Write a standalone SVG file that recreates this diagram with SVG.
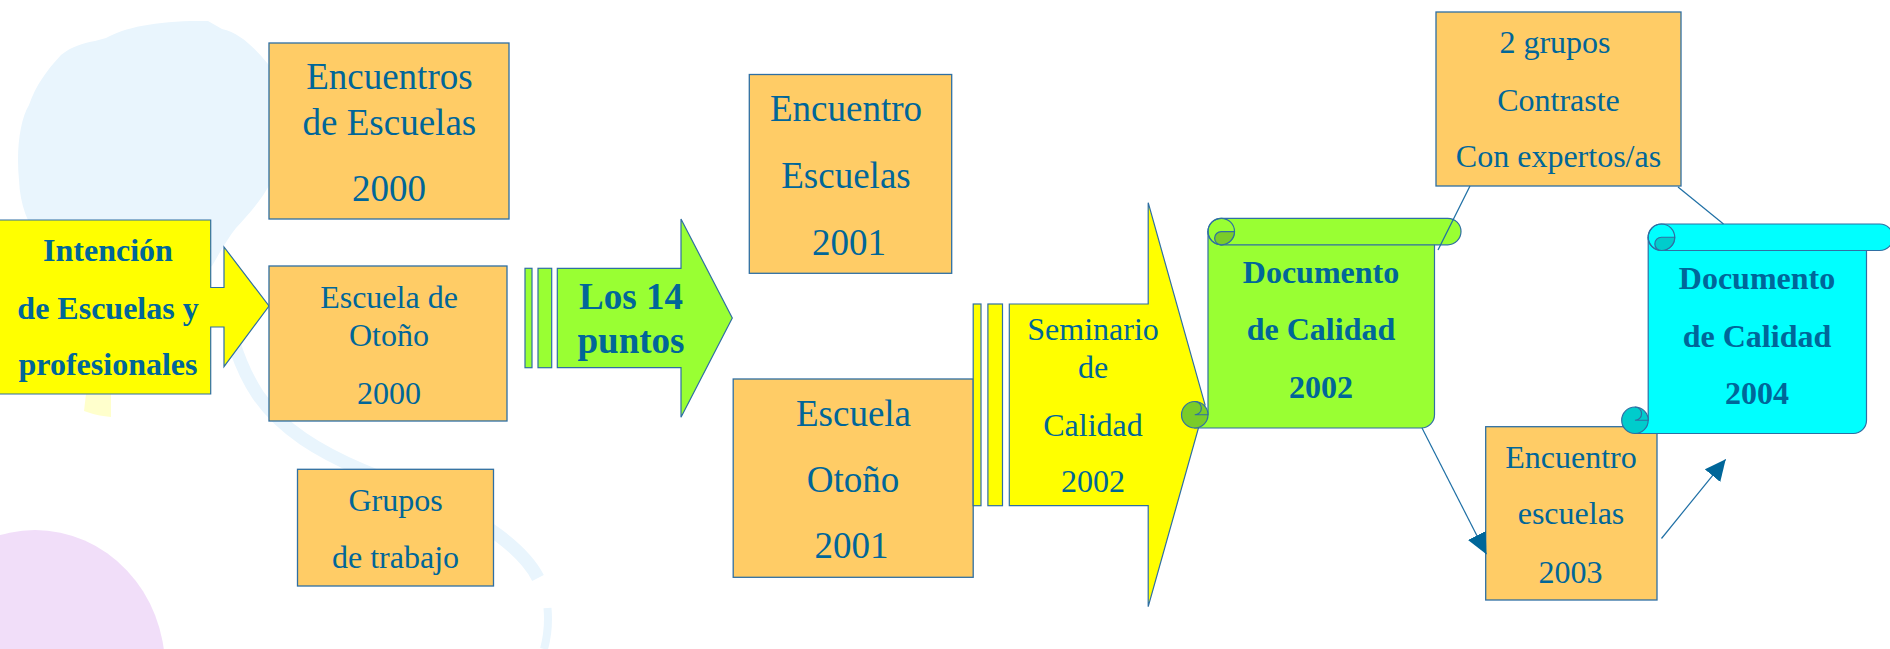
<svg xmlns="http://www.w3.org/2000/svg" width="1890" height="649" viewBox="0 0 1890 649">
<style>
.box{fill:#FFCC66;stroke:#2F6FA3;stroke-width:1.3}
.t{font-family:"Liberation Serif","Times New Roman",serif;fill:#006699;text-anchor:middle}
.s32{font-size:32px}
.s37{font-size:37px}
.b{font-weight:bold}
.ol{stroke:#2F6FA3;stroke-width:1.2}
.yel{fill:#FFFF00}
.grn{fill:#99FF33}
.grnd{fill:#7ACC29}
.cyn{fill:#00FFFF}
.cynd{fill:#00CCCC}
.con{stroke:#1E6FA5;stroke-width:1.2;fill:none}
</style>
<defs>
<marker id="ah" markerUnits="userSpaceOnUse" markerWidth="22" markerHeight="20" refX="21" refY="10" orient="auto">
<path d="M0,0 L21,10 L0,20 Z" fill="#006699"/>
</marker>
</defs>
<rect width="1890" height="649" fill="#FFFFFF"/>
<g id="background">
<path d="M95,41 L106,38 C125,27 160,20 208,21 L222,29 C240,33 255,48 268,64 L272,70 L272,180 C262,200 248,215 236,228 C228,238 220,252 212,266 L150,300 L40,240 C28,225 20,205 19,180 C16,150 20,120 29,105 C36,85 47,70 61,55 C72,46 84,43 95,41 Z" fill="#E9F5FD"/>
<path d="M222,290 C228,330 238,365 258,395 C282,430 320,452 362,470 C420,494 468,512 498,535 C518,550 531,564 538,578" fill="none" stroke="#E9F5FD" stroke-width="13"/>
<path d="M547.5,608 C549,625 547,638 544,649" fill="none" stroke="#E9F5FD" stroke-width="8"/>
<path d="M86,394 L111,394 L111,417 C100,416 92,414 84,411 Z" fill="#FFFFCC"/>
<ellipse cx="35" cy="668" rx="130" ry="138" fill="#F1DEF9"/>
</g>
<g id="intencion">
<path class="yel ol" d="M-2,220 H210.7 V287.5 H224 V247 L269,306 L224,366.7 V327 H210.7 V394 H-2 Z"/>
<text class="t s32 b" x="108" y="260.8">Intención</text>
<text class="t s32 b" x="108" y="318.7">de Escuelas y</text>
<text class="t s32 b" x="108" y="374.6">profesionales</text>
</g>
<g id="encuentros2000">
<rect class="box" x="269" y="43" width="240" height="176"/>
<text class="t s37" x="389.4" y="89">Encuentros</text>
<text class="t s37" x="389.4" y="134.5">de Escuelas</text>
<text class="t s37" x="389" y="200.7">2000</text>
</g>
<g id="otono2000">
<rect class="box" x="269" y="266" width="238" height="155"/>
<text class="t s32" x="389" y="308">Escuela de</text>
<text class="t s32" x="389" y="345.7">Otoño</text>
<text class="t s32" x="389" y="404">2000</text>
</g>
<g id="grupos">
<rect class="box" x="297.5" y="469.3" width="196" height="116.7"/>
<text class="t s32" x="395.5" y="510.5">Grupos</text>
<text class="t s32" x="395.5" y="567.5">de trabajo</text>
</g>
<g id="los14">
<rect class="grn ol" x="525" y="268.3" width="7" height="99.4"/>
<rect class="grn ol" x="538" y="268.3" width="13.7" height="99.4"/>
<path class="grn ol" d="M557.3,268.3 H681 V219 L732.3,318 L681,417.3 V367.7 H557.3 Z"/>
<text class="t s37 b" x="631" y="309.3">Los 14</text>
<text class="t s37 b" x="631" y="353.3">puntos</text>
</g>
<g id="encuentro2001">
<rect class="box" x="749.3" y="74.5" width="202.4" height="198.8"/>
<text class="t s37" x="846" y="121">Encuentro</text>
<text class="t s37" x="846" y="188.3">Escuelas</text>
<text class="t s37" x="849" y="255">2001</text>
</g>
<g id="otono2001">
<rect class="box" x="733.2" y="379" width="240" height="198.3"/>
<text class="t s37" x="853.5" y="425.7">Escuela</text>
<text class="t s37" x="853" y="491.7">Otoño</text>
<text class="t s37" x="851.6" y="558.3">2001</text>
</g>
<g id="seminario">
<rect class="yel ol" x="973.2" y="304" width="7.8" height="201.7"/>
<rect class="yel ol" x="987.9" y="304" width="14.6" height="201.7"/>
<path class="yel ol" d="M1009.3,304 H1148.2 V202.7 L1205,404.7 L1148.2,606.7 V505.7 H1009.3 Z"/>
<text class="t s32" x="1093" y="340">Seminario</text>
<text class="t s32" x="1093" y="377.7">de</text>
<text class="t s32" x="1093" y="435.7">Calidad</text>
<text class="t s32" x="1093" y="492.3">2002</text>
</g>
<g id="documento2002">
<path class="grn ol" d="M1208,231.55 H1434.5 V414.75 A13.25 13.25 0 0 1 1421.25,428 H1194.75 V414.75 H1208 Z"/>
<circle class="grnd ol" cx="1194.75" cy="414.75" r="13.25"/>
<path class="ol" fill="none" d="M1194.75,401.5 A6.625 6.625 0 0 1 1194.75,414.75 H1208"/>
<path class="grn ol" d="M1221.25,218.3 H1447.75 A13.25 13.25 0 0 1 1447.75,244.8 H1221.25 A13.25 13.25 0 0 1 1221.25,218.3 Z"/>
<circle class="ol" fill="none" cx="1221.25" cy="231.55" r="13.25"/>
<path class="grnd ol" d="M1221.25,231.55 A6.625 6.625 0 0 0 1221.25,244.8 A13.25 13.25 0 0 0 1234.5,231.55 Z"/>
<text class="t s32 b" x="1321" y="282.5">Documento</text>
<text class="t s32 b" x="1321" y="340">de Calidad</text>
<text class="t s32 b" x="1321" y="398.3">2002</text>
</g>
<g id="grupos2">
<rect class="box" x="1436" y="12" width="245" height="174"/>
<text class="t s32" x="1555" y="53.3">2 grupos</text>
<text class="t s32" x="1558.5" y="111">Contraste</text>
<text class="t s32" x="1558.5" y="166.7">Con expertos/as</text>
</g>
<g id="encuentro2003">
<rect class="box" x="1485.7" y="426.7" width="171.3" height="173.3"/>
<text class="t s32" x="1571" y="468.3">Encuentro</text>
<text class="t s32" x="1571" y="524.3">escuelas</text>
<text class="t s32" x="1570.5" y="582.7">2003</text>
</g>
<g id="documento2004">
<path class="cyn ol" d="M1648.2,237.25 H1866.5 V420.25 A13.25 13.25 0 0 1 1853.25,433.5 H1634.95 V420.25 H1648.2 Z"/>
<circle class="cynd ol" cx="1634.95" cy="420.25" r="13.25"/>
<path class="ol" fill="none" d="M1634.95,407 A6.625 6.625 0 0 1 1634.95,420.25 H1648.2"/>
<path class="cyn ol" d="M1661.45,224 H1879.75 A13.25 13.25 0 0 1 1879.75,250.5 H1661.45 A13.25 13.25 0 0 1 1661.45,224 Z"/>
<circle class="ol" fill="none" cx="1661.45" cy="237.25" r="13.25"/>
<path class="cynd ol" d="M1661.45,237.25 A6.625 6.625 0 0 0 1661.45,250.5 A13.25 13.25 0 0 0 1674.7,237.25 Z"/>
<text class="t s32 b" x="1757" y="288.5">Documento</text>
<text class="t s32 b" x="1757" y="346.7">de Calidad</text>
<text class="t s32 b" x="1757" y="403.7">2004</text>
</g>
<g id="connectors">
<line class="con" x1="1470" y1="186" x2="1438" y2="250"/>
<line class="con" x1="1678" y1="187" x2="1723.5" y2="224"/>
<line class="con" x1="1422" y1="428" x2="1486.4" y2="554.2" marker-end="url(#ah)"/>
<line class="con" x1="1661.5" y1="538.5" x2="1725.7" y2="459.3" marker-end="url(#ah)"/>
</g>
</svg>
